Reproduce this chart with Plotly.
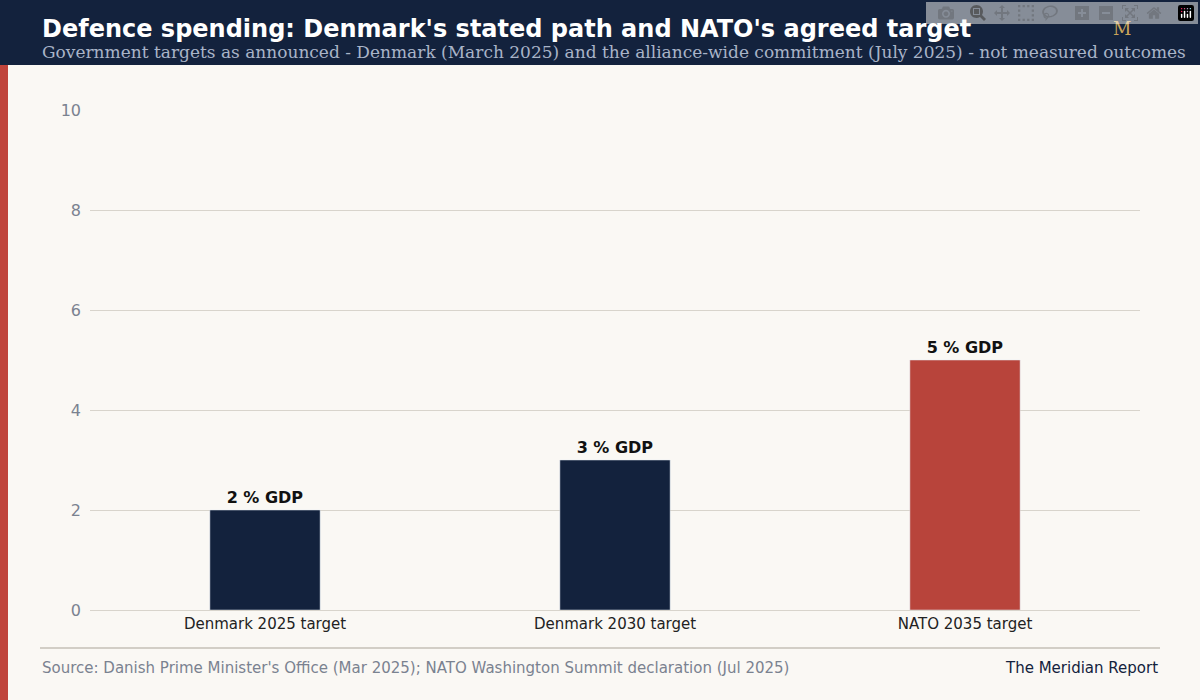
import plotly.graph_objects as go

#data
categories = ['Denmark 2025 target', 'Denmark 2030 target', 'NATO 2035 target']
values = [2, 3, 5]
labels = ['2 % GDP', '3 % GDP', '5 % GDP']
colors = ['#13223d', '#13223d', '#b8443b']

fig = go.Figure(go.Bar(
    x=categories, y=values, marker_color=colors, width=0.315,
    text=labels, textposition='outside', cliponaxis=False,
    textfont=dict(family='DejaVu Sans', size=16, color='#111111'),
))
fig.update_traces(texttemplate='<b>%{text}</b>')

fig.update_layout(
    width=1200, height=700,
    paper_bgcolor='#faf8f4', plot_bgcolor='#faf8f4',
    margin=dict(l=90, r=60, t=110, b=90),
    showlegend=False, bargap=0.5,
    font=dict(family='DejaVu Sans'),
)
fig.update_yaxes(range=[0, 10], dtick=2, gridcolor='#d8d4cc', zeroline=False,
                 tickfont=dict(size=16, color='#7a8290'), ticks='', ticklabelstandoff=8)
fig.update_xaxes(tickfont=dict(size=15, color='#222222'), showline=True,
                 linecolor='#d8d4cc', ticks='')

#header band, left accent, footer rule
fig.add_shape(type='rect', xref='paper', yref='paper',
              x0=-90/1050, x1=1+60/1050, y0=1+45/500, y1=1+110/500,
              fillcolor='#13223d', line_width=0, layer='below')
fig.add_shape(type='rect', xref='paper', yref='paper',
              x0=-90/1050, x1=-82/1050, y0=-90/500, y1=1+45/500,
              fillcolor='#c0443c', line_width=0)
fig.add_shape(type='line', xref='paper', yref='paper',
              x0=-50/1050, x1=1+20/1050, y0=-38/500, y1=-38/500,
              line=dict(color='#d2cec6', width=2))

fig.add_annotation(xref='paper', yref='paper', x=-50/1050, y=1+81/500, xanchor='left', yanchor='middle',
                   text="<b>Defence spending: Denmark's stated path and NATO's agreed target</b>",
                   showarrow=False, font=dict(family='DejaVu Sans', size=24, color='white'))
fig.add_annotation(xref='paper', yref='paper', x=-50/1050, y=1+58/500, xanchor='left', yanchor='middle',
                   text='Government targets as announced - Denmark (March 2025) and the alliance-wide commitment (July 2025) - not measured outcomes',
                   showarrow=False, font=dict(family='DejaVu Serif', size=17, color='#a9b4c8'))
fig.add_annotation(xref='paper', yref='paper', x=1+(1122-1140)/1050, y=1+82/500, xanchor='center', yanchor='middle',
                   text='M', showarrow=False, font=dict(family='DejaVu Serif', size=18, color='#c9a45a'))
fig.add_annotation(xref='paper', yref='paper', x=-50/1050, y=-58/500, xanchor='left', yanchor='middle',
                   text="Source: Danish Prime Minister's Office (Mar 2025); NATO Washington Summit declaration (Jul 2025)",
                   showarrow=False, font=dict(size=15, color='#7a8290'))
fig.add_annotation(xref='paper', yref='paper', x=1+20/1050, y=-58/500, xanchor='right', yanchor='middle',
                   text='The Meridian Report', showarrow=False, font=dict(size=15, color='#13223d'))

#drop the default page margin so the figure sits at the window's corner
fig.write_html("out.html", post_script="document.body.style.margin='0';")
